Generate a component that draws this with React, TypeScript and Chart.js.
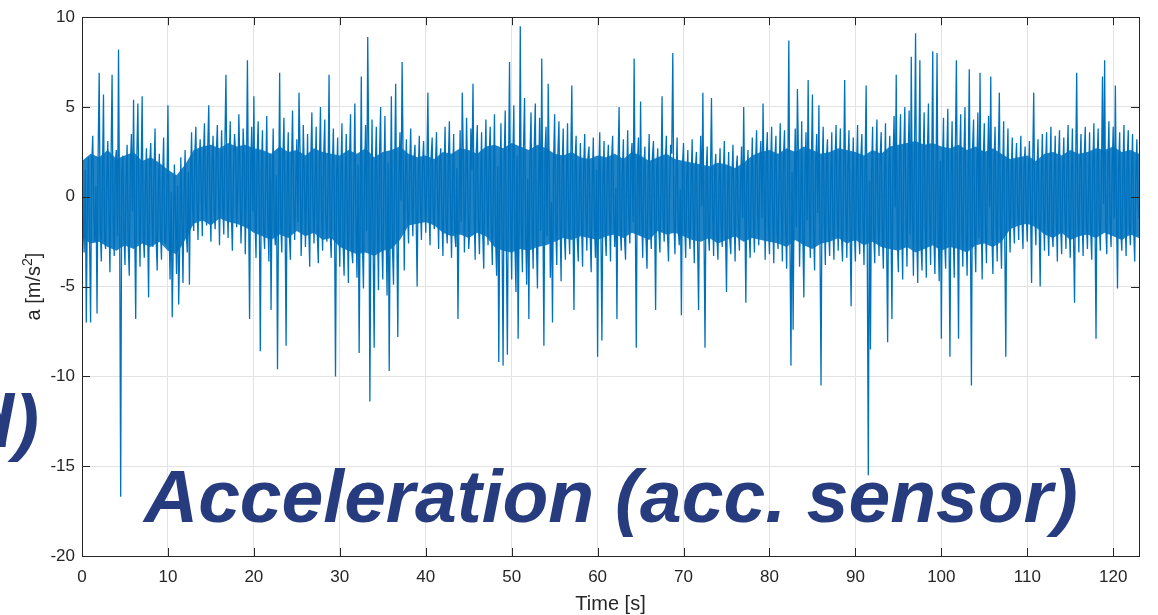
import React, { useEffect, useRef } from "react";
import { Chart, registerables } from "chart.js";

Chart.register(...registerables);

// the trace is read at 8 samples per second: a "main" sample every 0.25 s
// and an in-between sample 0.125 s after each main sample
const SAMPLE_STEP = 0.125;
// the solid core of the band is read once per second
const CORE_STEP = 1;

// acceleration [m/s^2] main samples (t = 0, 0.25, 0.5, ...)
const accel0to10 = [
  2.8, -3.1, -7.0, 2.2, -7.0, 3.4, -2.5, -6.5, 6.9, -3.6, 5.7, -2.9, 3.1, -4.2, 6.8, -3.3,
  2.6, 8.2, -16.7, 2.3, -3.8, 2.9, -4.4, 3.5, 5.4, -6.8, 5.2, -3.9, 5.6, -3.4, 2.7, -5.6,
  3.0, -2.8, 3.8, -4.1, 2.4, -3.5, 3.3, -2.6,
];
const accel10to20 = [
  5.1, -4.6, -6.7, 1.8, -4.3, -6.0, 2.2, -4.8, 2.6, -3.1, -4.9, 3.6, -1.9, 3.9, -2.4, 3.2,
  -2.2, 4.1, -1.6, 5.1, -2.5, 3.4, -1.8, 4.0, -2.7, 3.7, -2.1, 6.8, -2.3, 4.2, -3.0, 3.5,
  -1.7, 4.6, -2.6, 3.8, -3.2, 7.6, -6.8, 3.9,
];
const accel20to30 = [
  5.6, -3.4, 4.2, -8.6, 3.7, -2.9, 4.5, -3.6, -6.3, 3.8, -2.7, -9.6, 6.9, -3.1, 4.4, -8.3,
  3.6, -3.5, 4.8, -2.4, 3.2, 5.8, -3.3, 4.0, -2.8, 3.5, -3.9, 4.7, -2.6, 3.9, -3.7, 5.0,
  -3.0, 4.3, -2.5, 6.8, -3.4, 3.8, -10.0, 3.3,
];
const accel30to40 = [
  -3.9, 4.1, -4.4, 3.5, -4.8, 4.6, -3.7, 5.2, -4.5, -8.7, 6.7, -5.1, 4.0, 8.9, -11.4, 4.3,
  -8.4, 3.9, -5.2, 5.0, -4.6, 4.5, -5.5, -9.7, 5.6, -4.9, 6.3, -7.8, 3.6, 7.5, -4.1, 3.2,
  -2.6, 3.8, -2.2, 2.9, -5.0, 3.4, -2.4, 3.1,
];
const accel40to50 = [
  -2.0, 5.8, -2.7, 3.3, -1.8, 3.6, -2.9, 2.7, -3.3, 3.9, -2.6, 4.2, -3.4, 3.5, -2.8, -6.8,
  3.7, 5.8, -3.1, 4.4, -2.9, 3.8, 6.3, -3.5, 4.0, -3.2, 3.6, -4.0, 4.3, -2.7, 3.9, -3.8,
  4.6, -4.4, -9.2, 4.1, -9.4, 4.8, -8.8, 7.5,
];
const accel50to60 = [
  -4.6, 5.1, -5.3, -7.9, 9.5, -4.2, 5.5, -4.9, -6.8, 4.7, -4.0, 5.2, -5.1, 4.4, 7.7, -8.3,
  3.9, 6.3, -4.5, -7.0, 4.6, -3.8, 4.2, -4.7, 3.8, -3.5, 4.1, -3.2, 6.2, -6.3, 3.4, -3.6,
  3.0, -3.9, 3.5, -3.0, 2.8, -4.2, 3.3, -3.4,
];
const accel60to70 = [
  -8.9, 3.6, -8.0, 3.1, -3.3, 2.9, -3.6, 3.4, -2.8, -6.8, 5.0, -3.0, 3.2, -3.5, 3.7, -2.6,
  3.0, 7.7, -8.4, 3.3, 5.3, -3.4, 2.8, -4.0, 3.5, -2.9, 3.1, -6.3, 2.7, -3.1, 5.6, -2.5,
  3.4, -3.6, 2.9, 8.0, -3.2, 3.3, -2.7, -6.6,
];
const accel70to80 = [
  3.0, -3.4, 2.6, -2.9, 3.2, -3.7, 2.5, -6.3, 3.4, 5.8, -8.4, 2.8, -3.0, 5.5, -3.3, 2.4,
  -3.5, 2.7, -2.8, 3.1, -5.3, 2.5, -3.2, 2.9, -3.6, 2.3, -3.0, 2.8, 5.0, -5.9, 2.6, -3.4,
  3.3, -3.1, 3.7, -2.7, 3.1, 5.2, -3.5, 3.6,
];
const accel80to90 = [
  -3.2, 3.9, -3.7, 3.4, -2.9, 4.1, -3.6, 3.7, -4.0, 8.7, -9.4, -7.4, 3.8, 6.0, -3.9, 4.2,
  -5.6, 3.6, 6.5, -3.4, 5.7, -4.1, 3.5, 5.1, -10.5, 3.9, -3.8, 3.2, -3.3, 3.6, -3.5, 4.0,
  -3.0, 3.8, -3.6, 6.5, -3.4, 3.7, -6.1, 3.3,
];
const accel90to100 = [
  -3.6, 4.0, -3.2, 3.5, -3.8, 6.2, -15.5, -8.5, 3.9, -3.7, 4.3, -3.3, 3.6, -4.0, 4.1, -8.1,
  3.4, -6.8, 4.5, 6.8, -4.2, 4.6, -4.6, 5.0, -3.9, 4.8, 7.8, -4.4, 9.1, -4.8, 7.6, -4.1,
  4.7, -4.5, 5.2, -3.8, 8.1, -4.3, 8.0, -4.7,
];
const accel100to110 = [
  -7.9, 4.4, -4.0, 4.9, -8.9, 4.2, -4.5, 7.6, -7.9, 4.6, -3.9, 5.0, -4.4, 7.1, -10.5, 4.3,
  -4.2, 4.7, 6.9, -4.6, 4.1, -3.7, 4.5, 6.7, -4.3, 3.9, -3.6, 5.8, -4.0, 4.2, -8.9, 3.8,
  -3.1, 3.3, -2.6, 3.0, -2.4, 3.4, -2.9, 2.8,
];
const accel110to120 = [
  -2.5, 3.1, -4.8, 5.8, -2.7, 3.2, -5.0, 3.5, -3.0, 3.6, -3.3, 3.9, -2.8, 3.4, -3.6, 3.7,
  -3.2, 3.3, -2.9, 4.0, -3.4, 3.8, -5.9, 6.9, -3.1, 3.5, -3.3, 3.9, -2.9, 3.6, -3.5, 4.1,
  -7.9, 3.8, -3.0, 6.7, 7.6, -3.2, 4.2, -2.8,
];
const accel120to123 = [3.9, 6.2, -5.1, 3.6, -3.0, 4.0, -3.3, 3.7, -2.7, 3.5, -3.6, 3.2, -1.2];

// in-between samples (t = 0.125, 0.375, ...)
const mid0to10 = [
  -1.2, 1.5, -0.4, -2.1, 1.8, -0.9, 0.6, 2.3, -1.7, 1.1, -2.4, 0.8, -0.5, 1.9, -1.3, 2.0,
  -2.2, -0.7, 1.4, -1.9, 0.9, -2.6, 1.6, -0.8, -1.5, 2.1, -0.3, 1.2, -2.0, 0.7, -1.4, 1.8,
  -0.6, 1.3, -2.3, 0.5, -1.8, 1.0, -2.5, 0.4,
];
const mid10to20 = [
  -1.6, 0.3, -2.4, -0.8, 0.6, -2.7, -1.1, 0.2, -1.9, 1.4, 0.9, -0.6, 2.3, -0.2, 1.8, 0.4,
  2.1, -0.4, 2.6, 0.1, 1.5, -0.7, 2.4, 0.6, 1.2, -0.3, 2.8, 0.2, 1.9, -0.9, 1.3, 2.5,
  0.4, 1.7, -0.5, 2.2, 0.8, -0.1, 1.6, -0.8,
];
const mid20to30 = [
  -1.0, 2.2, -0.6, 1.5, -1.7, 0.9, -1.3, 2.4, 0.5, -1.8, 1.2, -0.4, -1.5, 2.0, -0.8, 1.1,
  -2.1, 1.7, -0.2, 0.8, -1.4, 2.6, -0.9, 1.3, 0.3, -1.6, 2.1, -0.5, 1.0, -2.0, 1.8, -0.7,
  2.3, -1.1, 0.6, -1.9, 1.4, -0.3, 0.9, -1.2,
];
const mid30to40 = [
  1.3, -2.5, 0.7, -1.6, 2.0, -2.9, 0.4, -1.2, 1.8, -0.6, -2.4, 1.1, -1.9, 2.3, -0.8, -2.6,
  1.5, -1.0, 2.4, -2.2, 0.6, -1.7, 1.9, -0.4, -2.8, 1.2, -1.4, 0.9, -0.2, 2.0, 1.1, -0.7,
  1.6, 0.2, 2.1, -0.9, 1.3, -0.3, 1.8, 0.5,
];
const mid40to50 = [
  1.4, -0.6, 2.2, -1.0, 1.7, 0.1, 2.0, -0.8, 1.1, -1.5, 1.9, -0.5, 0.8, -2.1, 1.6, -0.9,
  -1.4, 2.3, -0.2, 1.0, -1.8, 1.5, -0.7, 2.4, -1.2, 0.6, -2.0, 1.3, -0.4, 2.1, -1.6, 0.9,
  -2.3, 1.7, -0.1, -1.9, 2.0, -2.5, 1.2, -1.1,
];
const mid50to60 = [
  1.8, -2.6, 2.3, -0.9, -1.5, 2.7, -2.0, 1.0, 2.2, -1.3, 2.8, -2.4, 0.6, -1.9, -0.7, 2.5,
  -2.2, 1.4, -0.3, 2.0, -1.6, 2.4, -1.1, 1.7, -2.0, 0.8, -1.5, 2.1, -1.2, 1.9, -2.3, 0.5,
  -1.4, 1.6, -0.8, 2.2, -1.9, 0.7, -1.3, 1.5,
];
const mid60to70 = [
  1.2, -1.5, 0.8, -2.0, 1.6, -0.7, 2.1, -1.2, 0.5, 1.9, -1.6, 1.3, -2.2, 0.9, -1.0, 2.0,
  -1.4, -0.3, 1.7, -2.1, -0.8, 1.5, -2.3, 1.1, -1.6, 2.2, -0.9, 1.4, -1.8, 0.7, -1.1, 1.9,
  -2.0, 0.6, 2.4, -1.3, 1.0, -1.7, 0.4, 1.8,
];
const mid70to80 = [
  -1.3, 1.0, -1.9, 0.6, -1.1, 1.6, -2.2, 0.8, -0.5, -1.7, 1.2, -2.0, 0.9, -0.6, 1.4, -2.1,
  0.7, -1.5, 1.3, -1.8, 0.4, -2.3, 1.0, -0.9, 1.5, -1.6, 0.6, -1.2, -0.4, 1.1, -1.9, 0.8,
  -1.0, 1.8, -0.7, 2.0, -1.2, 0.5, 2.1, -1.4,
];
const mid80to90 = [
  1.6, -1.1, 2.0, -1.8, 1.3, -0.6, 2.2, -1.5, 0.9, -2.1, 1.4, 0.7, -1.7, 2.3, -0.5, -1.9,
  1.2, -1.3, -0.2, 2.0, -1.6, 1.8, -0.9, -2.4, 1.5, -1.0, 2.1, -1.8, 0.8, -1.4, 1.9, -0.7,
  1.6, -2.2, 1.1, -0.4, 1.7, -1.6, 0.6, -1.9,
];
const mid90to100 = [
  1.4, -1.8, 2.1, -1.0, 1.7, -2.6, 0.9, 1.3, -2.0, 1.6, -1.2, 2.2, -1.7, 0.8, -2.3, 1.5,
  -1.1, 1.9, -0.6, -2.4, 2.0, -1.5, 2.5, -0.9, 1.8, -2.1, -0.7, 2.3, -1.6, 1.2, -2.5, 1.9,
  -1.3, 2.4, -0.8, 1.7, -2.2, 1.0, -1.9, 2.0,
];
const mid100to110 = [
  1.6, -2.2, 2.0, -1.3, 1.1, -1.9, 2.4, -0.8, 1.8, -1.5, 2.2, -2.0, 1.3, -1.1, 2.6, -1.7,
  1.5, -2.3, -0.9, 2.1, -1.4, 1.9, -0.6, -2.0, 1.7, -1.2, 2.3, -1.5, 1.0, -2.1, 1.4, -0.7,
  1.2, -1.0, 1.6, -0.5, 1.3, -1.2, 1.7, -0.9,
];
const mid110to120 = [
  1.1, -0.6, 1.8, -0.9, 1.4, -1.3, 0.8, -0.5, 1.6, -1.4, 1.2, -1.9, 0.9, -1.1, 2.0, -1.6,
  1.3, -0.8, 1.9, -1.5, 1.0, -2.1, 1.5, -0.7, 1.7, -1.2, 2.2, -1.4, 0.6, -1.8, 1.6, -1.0,
  2.0, -1.3, 1.1, -0.4, -1.5, 1.8, -1.1, 1.4,
];
const mid120to123 = [-1.2, -0.6, 1.5, -1.8, 1.3, -1.0, 2.0, -1.5, 1.1, -1.7, 0.9, -0.4];

// upper / lower edge of the solid core of the band, one reading per second (t = 0..123)
const coreUpper = [
  2.0, 2.4, 2.2, 2.6, 2.1, 2.3, 2.5, 2.0, 2.2, 1.9,
  1.5, 1.2, 1.8, 2.6, 2.8, 2.9, 2.7, 3.0, 2.8, 2.9,
  2.7, 2.6, 2.4, 2.8, 2.5, 2.6, 2.3, 2.7, 2.5, 2.4,
  2.3, 2.6, 2.4, 2.7, 2.2, 2.5, 2.6, 2.8, 2.4, 2.2,
  2.3, 2.1, 2.5, 2.4, 2.7, 2.6, 2.4, 2.8, 2.9, 2.7,
  3.0, 2.8, 2.6, 2.9, 2.7, 2.4, 2.3, 2.5, 2.2, 2.1,
  2.3, 2.2, 2.4, 2.1, 2.5, 2.3, 2.0, 2.2, 2.4, 2.1,
  2.0, 1.9, 1.8, 1.7, 1.9, 1.8, 1.6, 1.9, 2.3, 2.5,
  2.6, 2.4, 2.7, 2.5, 2.8, 2.6, 2.4, 2.5, 2.7, 2.6,
  2.5, 2.3, 2.6, 2.4, 2.8, 2.9, 3.0, 3.1, 2.9, 3.0,
  2.8, 2.7, 2.9, 2.6, 2.8, 2.5, 2.7, 2.4, 2.1, 2.2,
  2.3, 2.0, 2.4, 2.5, 2.3, 2.6, 2.4, 2.5, 2.7, 2.6,
  2.8, 2.5, 2.6, 2.4,
];
const coreLower = [
  -2.3, -2.6, -2.5, -2.8, -3.0, -2.7, -2.9, -2.6, -2.8, -2.5,
  -3.0, -3.2, -2.4, -1.5, -1.3, -1.6, -1.2, -1.4, -1.5, -1.7,
  -2.0, -2.2, -2.4, -2.1, -2.3, -1.9, -2.2, -2.0, -2.4, -2.3,
  -2.8, -3.0, -3.2, -3.1, -3.3, -3.0, -2.9, -2.4, -1.6, -1.5,
  -1.4, -1.6, -2.0, -2.2, -2.1, -2.3, -2.0, -2.2, -2.8, -3.0,
  -3.1, -2.9, -3.0, -2.8, -2.7, -2.5, -2.3, -2.4, -2.2, -2.3,
  -2.4, -2.2, -2.1, -2.3, -2.0, -2.2, -2.4, -1.9, -2.1, -2.0,
  -2.2, -2.4, -2.5, -2.3, -2.6, -2.4, -2.2, -2.5, -2.3, -2.4,
  -2.5, -2.6, -2.8, -2.4, -2.7, -2.9, -2.6, -2.5, -2.3, -2.6,
  -2.4, -2.7, -2.5, -2.8, -2.9, -3.0, -2.8, -3.1, -2.9, -2.7,
  -3.0, -2.8, -2.9, -3.1, -2.7, -2.6, -2.8, -2.5, -1.8, -1.6,
  -1.5, -1.7, -2.1, -2.3, -2.0, -2.4, -2.2, -2.1, -2.3, -2.0,
  -2.2, -2.4, -2.1, -2.3,
];

const mainSegments = [
  accel0to10, accel10to20, accel20to30, accel30to40, accel40to50, accel50to60,
  accel60to70, accel70to80, accel80to90, accel90to100, accel100to110, accel110to120,
  accel120to123,
];
const midSegments = [
  mid0to10, mid10to20, mid20to30, mid30to40, mid40to50, mid50to60,
  mid60to70, mid70to80, mid80to90, mid90to100, mid100to110, mid110to120,
  mid120to123,
];

const xTicks = [0, 10, 20, 30, 40, 50, 60, 70, 80, 90, 100, 110, 120];
const yTicks = [-20, -15, -10, -5, 0, 5, 10];

const X_TITLE = "Time [s]";
const Y_TITLE_BASE = "a [m/s";
const Y_TITLE_SUP = "2";
const Y_TITLE_END = "]";
const OVERLAY_TITLE = "Acceleration (acc. sensor)";
const OVERLAY_PANEL = "d)";

const AXIS_COLOR = "#262626";
const LINE_COLOR = "#0072BD";
const CORE_COLOR = "rgba(0, 114, 189, 0.88)";
const OVERLAY_COLOR = "#263c7e";
const FONT = "'Liberation Sans', Arial, Helvetica, sans-serif";

const framePlugin = {
  id: "matlabFrame",
  afterDatasetsDraw(chart: any) {
    const { ctx, chartArea } = chart;
    const { left, right, top, bottom } = chartArea;
    const xs = chart.scales.x;
    const ys = chart.scales.y;
    const tick = 8;
    ctx.save();
    ctx.strokeStyle = AXIS_COLOR;
    ctx.lineWidth = 1;
    ctx.beginPath();
    for (const v of xTicks) {
      const px = Math.round(xs.getPixelForValue(v)) + 0.5;
      ctx.moveTo(px, bottom);
      ctx.lineTo(px, bottom - tick);
      ctx.moveTo(px, top);
      ctx.lineTo(px, top + tick);
    }
    for (const v of yTicks) {
      const py = Math.round(ys.getPixelForValue(v)) + 0.5;
      ctx.moveTo(left, py);
      ctx.lineTo(left + tick, py);
      ctx.moveTo(right, py);
      ctx.lineTo(right - tick, py);
    }
    ctx.stroke();
    ctx.strokeRect(Math.round(left) + 0.5, Math.round(top) + 0.5, Math.round(right - left), Math.round(bottom - top));
    ctx.restore();
  },
  afterDraw(chart: any) {
    const { ctx, chartArea } = chart;
    ctx.save();
    ctx.fillStyle = AXIS_COLOR;
    ctx.font = `20px ${FONT}`;
    ctx.textAlign = "center";
    ctx.textBaseline = "middle";
    ctx.fillText(X_TITLE, (chartArea.left + chartArea.right) / 2, 604);

    ctx.translate(40, (chartArea.top + chartArea.bottom) / 2);
    ctx.rotate(-Math.PI / 2);
    ctx.textAlign = "left";
    ctx.textBaseline = "alphabetic";
    ctx.font = `20px ${FONT}`;
    const wBase = ctx.measureText(Y_TITLE_BASE).width;
    const wEnd = ctx.measureText(Y_TITLE_END).width;
    ctx.font = `14px ${FONT}`;
    const wSup = ctx.measureText(Y_TITLE_SUP).width;
    const total = wBase + wSup + wEnd;
    let x0 = -total / 2;
    ctx.font = `20px ${FONT}`;
    ctx.fillText(Y_TITLE_BASE, x0, 0);
    x0 += wBase;
    ctx.font = `14px ${FONT}`;
    ctx.fillText(Y_TITLE_SUP, x0, -8);
    x0 += wSup;
    ctx.font = `20px ${FONT}`;
    ctx.fillText(Y_TITLE_END, x0, 0);
    ctx.restore();

    ctx.save();
    ctx.fillStyle = OVERLAY_COLOR;
    ctx.font = `italic bold 75px ${FONT}`;
    ctx.textBaseline = "alphabetic";
    ctx.textAlign = "left";
    ctx.fillText(OVERLAY_TITLE, 144, 522);
    ctx.textAlign = "right";
    ctx.fillText(OVERLAY_PANEL, 39, 447);
    ctx.restore();
  },
};

export default function App() {
  const canvasRef = useRef<HTMLCanvasElement | null>(null);

  useEffect(() => {
    document.body.style.margin = "0";
    const main = mainSegments.flat();
    const mid = midSegments.flat();
    const values: number[] = [];
    main.forEach((v, i) => {
      values.push(v);
      if (i < mid.length) values.push(mid[i]);
    });
    const points = values.map((v, i) => ({ x: i * SAMPLE_STEP, y: v }));
    const upperPts = coreUpper.map((v, i) => ({ x: i * CORE_STEP, y: v }));
    const lowerPts = coreLower.map((v, i) => ({ x: i * CORE_STEP, y: v }));
    const chart = new Chart(canvasRef.current as HTMLCanvasElement, {
      type: "line",
      data: {
        datasets: [
          {
            data: points,
            borderColor: LINE_COLOR,
            borderWidth: 1.3,
            pointRadius: 0,
            tension: 0,
            fill: false,
            order: 0,
          },
          {
            data: upperPts,
            borderColor: LINE_COLOR,
            borderWidth: 0,
            backgroundColor: CORE_COLOR,
            pointRadius: 0,
            tension: 0,
            fill: "+1",
            order: 1,
          },
          {
            data: lowerPts,
            borderColor: LINE_COLOR,
            borderWidth: 0,
            pointRadius: 0,
            tension: 0,
            fill: false,
            order: 2,
          },
        ],
      },
      plugins: [framePlugin],
      options: {
        animation: false,
        responsive: false,
        maintainAspectRatio: false,
        layout: { padding: { left: 0, top: 13, right: 19, bottom: 0 } },
        plugins: { legend: { display: false }, tooltip: { enabled: false } },
        scales: {
          x: {
            type: "linear",
            min: 0,
            max: 123,
            afterBuildTicks: (scale: any) => {
              scale.ticks = xTicks.map((v) => ({ value: v }));
            },
            afterFit: (scale: any) => {
              scale.height = 59;
            },
            grid: { color: "#e3e3e3", lineWidth: 1, drawTicks: false },
            border: { display: false },
            ticks: {
              color: AXIS_COLOR,
              font: { family: FONT, size: 17 },
              padding: 11,
              maxRotation: 0,
              autoSkip: false,
            },
          },
          y: {
            type: "linear",
            min: -20,
            max: 10,
            afterBuildTicks: (scale: any) => {
              scale.ticks = yTicks.map((v) => ({ value: v }));
            },
            afterFit: (scale: any) => {
              scale.width = 82;
            },
            grid: { color: "#e3e3e3", lineWidth: 1, drawTicks: false },
            border: { display: false },
            ticks: {
              color: AXIS_COLOR,
              font: { family: FONT, size: 17 },
              padding: 7,
              autoSkip: false,
            },
          },
        },
      },
    });
    return () => chart.destroy();
  }, []);

  return (
    <div style={{ position: "fixed", left: 0, top: 0, width: 1158, height: 615, background: "#fff" }}>
      <canvas ref={canvasRef} width={1158} height={615} style={{ width: 1158, height: 615, display: "block" }} />
    </div>
  );
}
